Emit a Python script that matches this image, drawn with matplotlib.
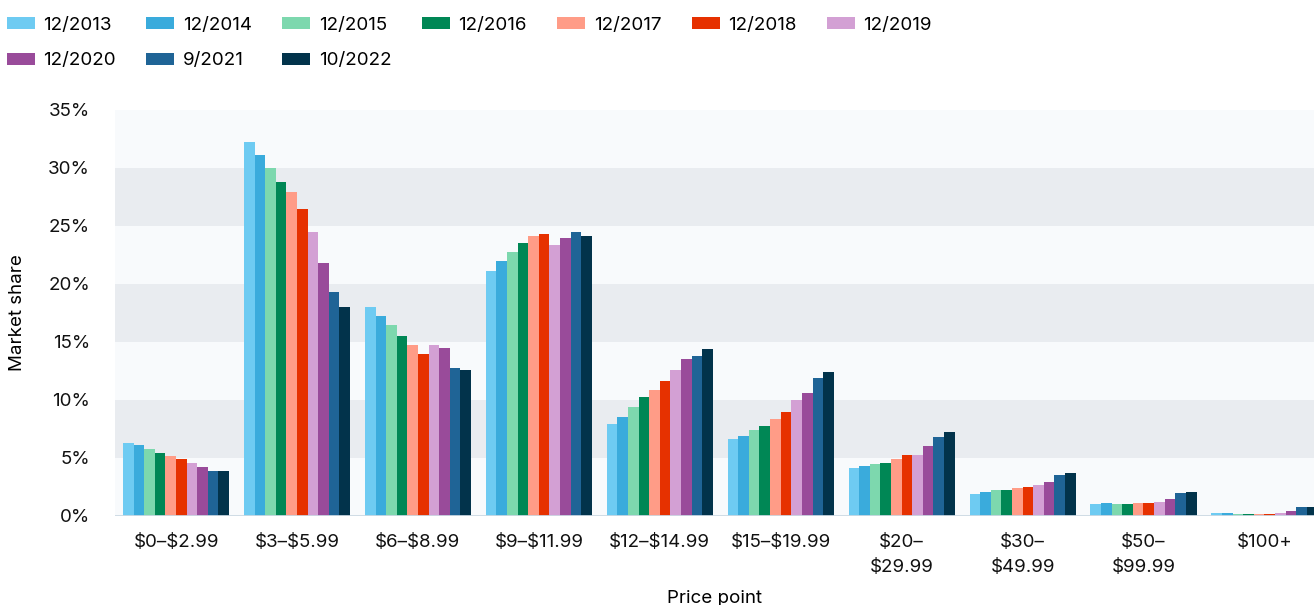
import numpy as np
import matplotlib.pyplot as plt
from matplotlib.ticker import PercentFormatter

plt.rcParams["font.family"] = ["Inter", "DejaVu Sans"]

price_points = ["$0\u2013$2.99", "$3\u2013$5.99", "$6\u2013$8.99", "$9\u2013$11.99",
                "$12\u2013$14.99", "$15\u2013$19.99", "$20\u2013\n$29.99",
                "$30\u2013\n$49.99", "$50\u2013\n$99.99", "$100+"]
periods = ["12/2013", "12/2014", "12/2015", "12/2016", "12/2017",
           "12/2018", "12/2019", "12/2020", "9/2021", "10/2022"]

# market share (%) per period, one value per price point
share_2013 = [6.3, 32.2, 18.0, 21.1, 7.9, 6.6, 4.1, 1.9, 1.0, 0.26]
share_2014 = [6.1, 31.1, 17.2, 22.0, 8.5, 6.9, 4.3, 2.1, 1.1, 0.26]
share_2015 = [5.8, 30.0, 16.5, 22.8, 9.4, 7.4, 4.5, 2.2, 1.0, 0.17]
share_2016 = [5.4, 28.8, 15.5, 23.5, 10.3, 7.8, 4.6, 2.2, 1.0, 0.17]
share_2017 = [5.2, 27.9, 14.7, 24.1, 10.9, 8.4, 4.9, 2.4, 1.1, 0.17]
share_2018 = [4.9, 26.5, 14.0, 24.3, 11.6, 9.0, 5.3, 2.5, 1.1, 0.17]
share_2019 = [4.6, 24.5, 14.7, 23.4, 12.6, 10.0, 5.3, 2.7, 1.2, 0.26]
share_2020 = [4.2, 21.8, 14.5, 24.0, 13.5, 10.6, 6.0, 2.9, 1.5, 0.43]
share_2021 = [3.9, 19.3, 12.8, 24.5, 13.8, 11.9, 6.8, 3.5, 2.0, 0.78]
share_2022 = [3.9, 18.0, 12.6, 24.1, 14.4, 12.4, 7.2, 3.7, 2.1, 0.78]

series = [share_2013, share_2014, share_2015, share_2016, share_2017,
          share_2018, share_2019, share_2020, share_2021, share_2022]
colors = ["#6ECBF2", "#3AABDC", "#7DD8AE", "#008755", "#FF9C87",
          "#E63100", "#D3A0D4", "#994B9A", "#1F6496", "#02334B"]

fig = plt.figure(figsize=(13.14, 6.05), dpi=100)
ax = fig.add_axes([115 / 1314, 1 - 516 / 605, 1 - 115 / 1314, 406 / 605])

# alternating background bands
for k, lo in enumerate(range(0, 35, 5)):
    ax.axhspan(lo, lo + 5, color="#E9ECF0" if k % 2 else "#F8FAFC", lw=0, zorder=0)

x = np.arange(len(price_points))
group_w = 0.877
bar_w = group_w / len(series)
bars = []
for i, (vals, c, lab) in enumerate(zip(series, colors, periods)):
    b = ax.bar(x - group_w / 2 + bar_w * (i + 0.5), vals, width=bar_w,
               color=c, label=lab, zorder=2, linewidth=0)
    bars.append(b)

ax.axhline(0, color="#CCD9E3", lw=2, zorder=3)
ax.set_xlim(-0.505, 9.41)
ax.set_ylim(0, 35)
ax.set_yticks(range(0, 36, 5))
ax.yaxis.set_major_formatter(PercentFormatter(decimals=0))
ax.set_xticks(x)
ax.set_xticklabels([p.replace("$", r"\$") for p in price_points], linespacing=1.6)
ax.tick_params(length=0, labelsize=13.5, colors="#111111")
ax.tick_params(axis="x", pad=13)
ax.tick_params(axis="y", pad=18)
for s in ax.spines.values():
    s.set_visible(False)

ax.set_ylabel("Market share", fontsize=13.5, labelpad=16)
ax.set_xlabel("Price point", fontsize=13.5, labelpad=10)

# legend fills column by column, so interleave to get 7 on row one, 3 on row two
order = [0, 7, 1, 8, 2, 9, 3, 4, 5, 6]
fig.legend([bars[i] for i in order], [periods[i] for i in order],
           loc="upper left", bbox_to_anchor=(0.0, 0.983), ncol=7, frameon=False,
           fontsize=13.5, handlelength=1.5, handleheight=0.6, handletextpad=0.45,
           columnspacing=1.62, labelspacing=0.98, borderpad=0.35, borderaxespad=0)

fig.savefig("out.png", dpi=100)
